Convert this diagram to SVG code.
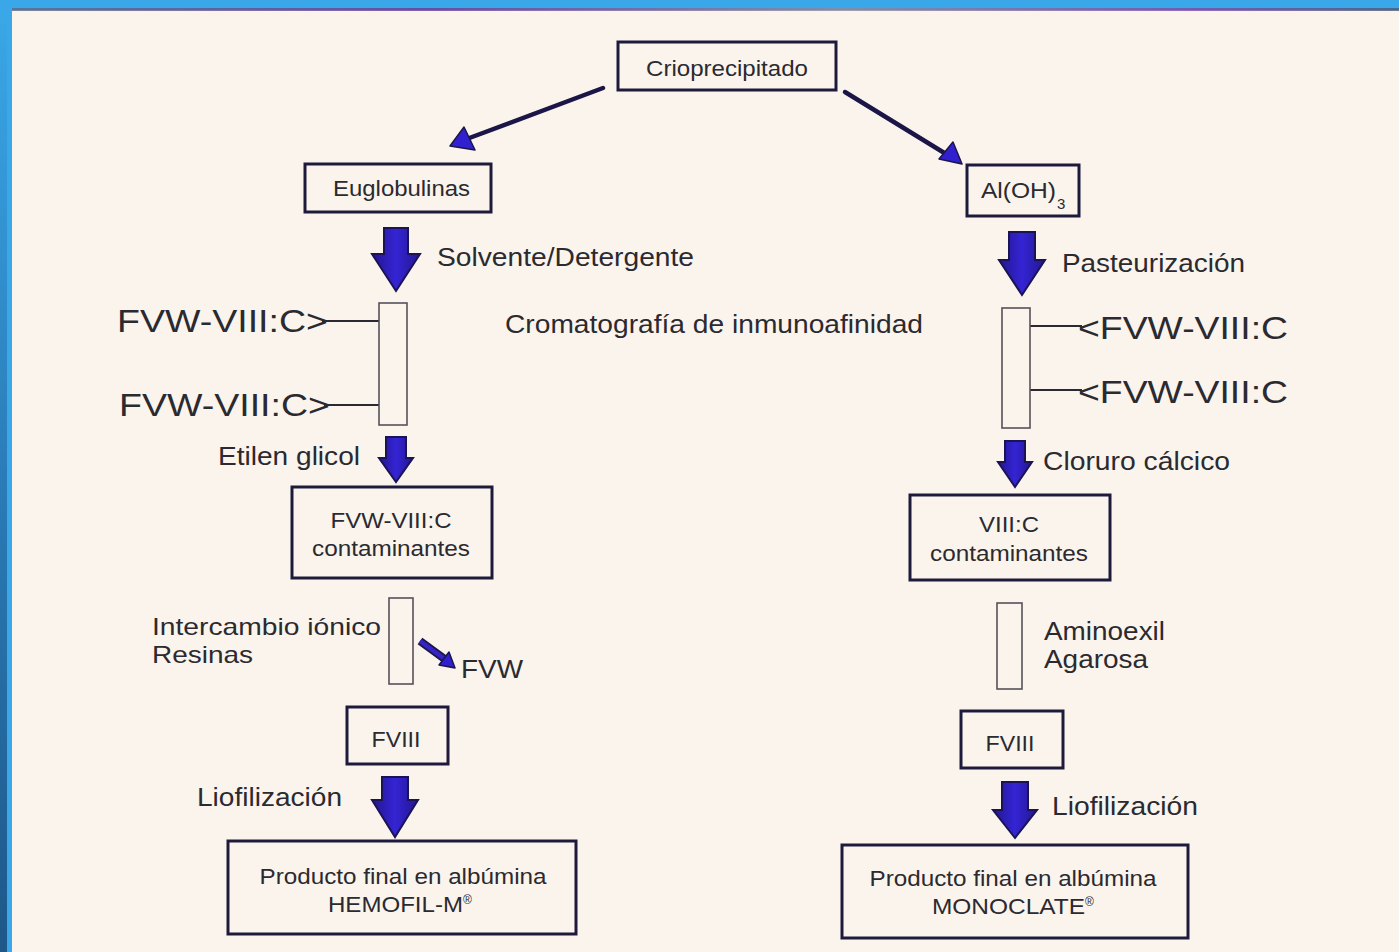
<svg xmlns="http://www.w3.org/2000/svg" width="1399" height="952" viewBox="0 0 1399 952">
  <defs>
    <linearGradient id="edgeLeft" x1="0" y1="0" x2="0" y2="1">
      <stop offset="0" stop-color="#3aa8e8"/>
      <stop offset="0.5" stop-color="#2a7cb8"/>
      <stop offset="1" stop-color="#1e5788"/>
    </linearGradient>
    <linearGradient id="topRule" x1="0" y1="0" x2="1" y2="0">
      <stop offset="0" stop-color="#5a6a8a"/>
      <stop offset="0.3" stop-color="#6a3a9a"/>
      <stop offset="0.6" stop-color="#8a8aa0"/>
      <stop offset="0.85" stop-color="#7a4aa8"/>
      <stop offset="1" stop-color="#4a5a7a"/>
    </linearGradient>
    <linearGradient id="arrowFill" x1="0" y1="0" x2="1" y2="0">
      <stop offset="0" stop-color="#241690"/>
      <stop offset="0.5" stop-color="#3424d4"/>
      <stop offset="1" stop-color="#241690"/>
    </linearGradient>
    <style>
      .paper { fill: #fbf4ec; }
      .box { fill: none; stroke: #1e1a3c; stroke-width: 3; }
      .col { fill: none; stroke: #55525a; stroke-width: 1.6; }
      .tie { stroke: #2a2830; stroke-width: 2.2; fill: none; }
      .thick { fill: url(#arrowFill); stroke: #1a1456; stroke-width: 2; stroke-linejoin: miter; }
      .diag { stroke: #1c1648; stroke-width: 4.5; fill: none; stroke-linecap: round; }
      .head { fill: #3020d0; stroke: #1c1648; stroke-width: 1.5; stroke-linejoin: round; }
      text { font-family: "Liberation Sans", Arial, sans-serif; fill: #2a2a30; }
      .t20 { font-size: 22px; }
      .t24 { font-size: 26px; }
      .t23 { font-size: 24px; }
      .t30 { font-size: 31px; }
      .mid { text-anchor: middle; }
      .reg { font-size: 12px; }
    </style>
  </defs>

  <!-- page frame -->
  <rect x="0" y="0" width="1399" height="952" fill="#3aa8e8"/>
  <rect x="0" y="0" width="7" height="952" fill="url(#edgeLeft)"/>
  <rect class="paper" x="12" y="10" width="1387" height="942"/>
  <rect x="12" y="8" width="1387" height="3" fill="url(#topRule)" opacity="0.8"/>

  <!-- connectors -->
  <g id="connectors">
    <!-- split from the top box -->
    <line class="diag" x1="603" y1="88" x2="464" y2="140"/>
    <polygon class="head" points="450,146 464,127 475,150"/>
    <line class="diag" x1="845" y1="92" x2="946" y2="154"/>
    <polygon class="head" points="962,164 953,142 939,159"/>

    <!-- process arrows -->
    <path class="thick" d="M384,228 H408 V254 H420 L396,291 L372,254 H384 Z"/>
    <path class="thick" d="M1009,232 H1035 V260 H1045 L1022,295 L999,260 H1009 Z"/>
    <path class="thick" d="M386,437 H406 V458 H413 L396,482 L379,458 H386 Z"/>
    <path class="thick" d="M1005,441 H1025 V462 H1032 L1015,487 L998,462 H1005 Z"/>
    <path class="thick" d="M382,777 H408 V800 H418 L395,837 L372,800 H382 Z"/>
    <path class="thick" d="M1002,782 H1028 V810 H1037 L1015,838 L993,810 H1002 Z"/>

    <!-- FVW branch off the resin column -->
    <line x1="420" y1="641" x2="446" y2="660" stroke="#1c1648" stroke-width="8" stroke-linecap="butt"/>
    <line x1="420" y1="641" x2="446" y2="660" stroke="#3424c8" stroke-width="4.5" stroke-linecap="butt"/>
    <polygon class="head" points="455,668 439,665 449,652"/>

    <!-- column feeds -->
    <line class="tie" x1="322" y1="321" x2="379" y2="321"/>
    <line class="tie" x1="324" y1="405" x2="379" y2="405"/>
    <line class="tie" x1="1030" y1="326" x2="1082" y2="326"/>
    <line class="tie" x1="1030" y1="390" x2="1082" y2="390"/>
  </g>

  <g id="crioprecipitado">
    <rect class="box" x="618" y="42" width="218" height="48"/>
    <text class="t20" x="646" y="76" textLength="162" lengthAdjust="spacingAndGlyphs">Crioprecipitado</text>
  </g>

  <g id="euglobulinas">
    <rect class="box" x="305" y="164" width="186" height="48"/>
    <text class="t20" x="333" y="196" textLength="137" lengthAdjust="spacingAndGlyphs">Euglobulinas</text>
  </g>

  <g id="aloh3">
    <rect class="box" x="967" y="165" width="112" height="51"/>
    <text class="t20" x="981" y="198" textLength="75" lengthAdjust="spacingAndGlyphs">Al(OH)</text>
    <text x="1057" y="209" font-size="15">3</text>
  </g>

  <g id="solvente-label">
    <text class="t24" x="437" y="266" textLength="257" lengthAdjust="spacingAndGlyphs">Solvente/Detergente</text>
  </g>

  <g id="pasteurizacion-label">
    <text class="t24" x="1062" y="272" textLength="183" lengthAdjust="spacingAndGlyphs">Pasteurización</text>
  </g>

  <g id="cromatografia-label">
    <text class="t24" x="505" y="333" textLength="418" lengthAdjust="spacingAndGlyphs">Cromatografía de inmunoafinidad</text>
  </g>

  <g id="columna-izq">
    <rect class="col" x="379" y="303" width="28" height="122"/>
    <text class="t30" x="117" y="332" textLength="211" lengthAdjust="spacingAndGlyphs">FVW-VIII:C&gt;</text>
    <text class="t30" x="119" y="416" textLength="211" lengthAdjust="spacingAndGlyphs">FVW-VIII:C&gt;</text>
  </g>

  <g id="columna-der">
    <rect class="col" x="1002" y="308" width="28" height="120"/>
    <text class="t30" x="1078" y="339" textLength="210" lengthAdjust="spacingAndGlyphs">&lt;FVW-VIII:C</text>
    <text class="t30" x="1078" y="403" textLength="210" lengthAdjust="spacingAndGlyphs">&lt;FVW-VIII:C</text>
  </g>

  <g id="etilen-label">
    <text class="t24" x="218" y="465" textLength="142" lengthAdjust="spacingAndGlyphs">Etilen glicol</text>
  </g>

  <g id="cloruro-label">
    <text class="t24" x="1043" y="470" textLength="187" lengthAdjust="spacingAndGlyphs">Cloruro cálcico</text>
  </g>

  <g id="fvw-contaminantes">
    <rect class="box" x="292" y="487" width="200" height="91"/>
    <text class="t20 mid" x="391" y="528" textLength="121" lengthAdjust="spacingAndGlyphs">FVW-VIII:C</text>
    <text class="t20 mid" x="391" y="556" textLength="158" lengthAdjust="spacingAndGlyphs">contaminantes</text>
  </g>

  <g id="viiic-contaminantes">
    <rect class="box" x="910" y="495" width="200" height="85"/>
    <text class="t20 mid" x="1009" y="532" textLength="60" lengthAdjust="spacingAndGlyphs">VIII:C</text>
    <text class="t20 mid" x="1009" y="561" textLength="158" lengthAdjust="spacingAndGlyphs">contaminantes</text>
  </g>

  <g id="resinas">
    <rect class="col" x="389" y="598" width="24" height="86"/>
    <text class="t23" x="152" y="635" textLength="229" lengthAdjust="spacingAndGlyphs">Intercambio iónico</text>
    <text class="t23" x="152" y="663" textLength="101" lengthAdjust="spacingAndGlyphs">Resinas</text>
    <text class="t24" x="461" y="678" textLength="62" lengthAdjust="spacingAndGlyphs">FVW</text>
  </g>

  <g id="aminoexil">
    <rect class="col" x="997" y="603" width="25" height="86"/>
    <text class="t24" x="1044" y="640" textLength="121" lengthAdjust="spacingAndGlyphs">Aminoexil</text>
    <text class="t24" x="1044" y="668" textLength="104" lengthAdjust="spacingAndGlyphs">Agarosa</text>
  </g>

  <g id="fviii-izq">
    <rect class="box" x="347" y="707" width="101" height="57"/>
    <text class="t20 mid" x="396" y="747" textLength="49" lengthAdjust="spacingAndGlyphs">FVIII</text>
  </g>

  <g id="fviii-der">
    <rect class="box" x="961" y="711" width="102" height="57"/>
    <text class="t20 mid" x="1010" y="751" textLength="49" lengthAdjust="spacingAndGlyphs">FVIII</text>
  </g>

  <g id="liofilizacion-labels">
    <text class="t24" x="197" y="806" textLength="145" lengthAdjust="spacingAndGlyphs">Liofilización</text>
    <text class="t24" x="1052" y="815" textLength="146" lengthAdjust="spacingAndGlyphs">Liofilización</text>
  </g>

  <g id="hemofil">
    <rect class="box" x="228" y="841" width="348" height="93"/>
    <text class="t20 mid" x="403" y="884" textLength="287" lengthAdjust="spacingAndGlyphs">Producto final en albúmina</text>
    <text class="t20" x="328" y="912" textLength="135" lengthAdjust="spacingAndGlyphs">HEMOFIL-M</text>
    <text class="reg" x="463" y="904">®</text>
  </g>

  <g id="monoclate">
    <rect class="box" x="842" y="845" width="346" height="93"/>
    <text class="t20 mid" x="1013" y="886" textLength="287" lengthAdjust="spacingAndGlyphs">Producto final en albúmina</text>
    <text class="t20" x="932" y="914" textLength="153" lengthAdjust="spacingAndGlyphs">MONOCLATE</text>
    <text class="reg" x="1085" y="906">®</text>
  </g>
</svg>
